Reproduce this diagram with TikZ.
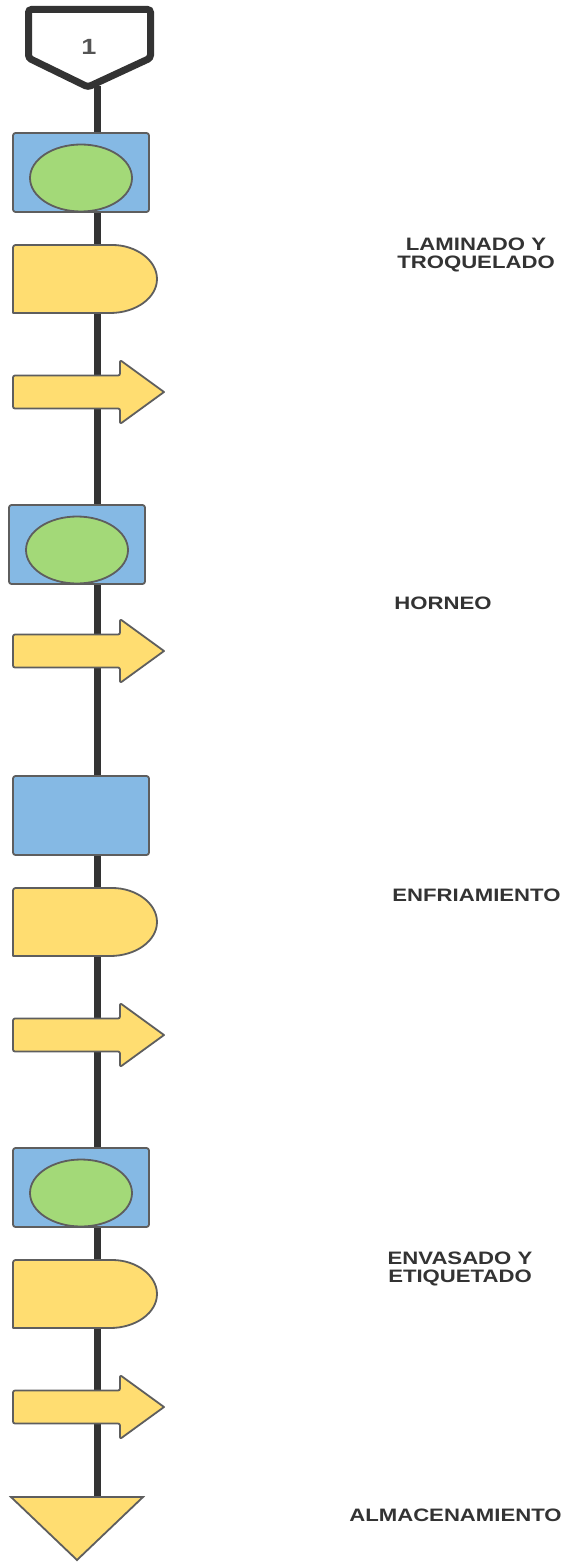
\documentclass[tikz,border=0pt]{standalone}
\usepackage{fontspec}
\setsansfont{Liberation Sans}
\definecolor{boxblue}{HTML}{85B9E4}
\definecolor{ovalgreen}{HTML}{A3D978}
\definecolor{delayyellow}{HTML}{FFDD71}
\definecolor{shapeline}{HTML}{5E5E5E}
\definecolor{flowline}{HTML}{333333}
\definecolor{labeltext}{HTML}{333333}
\tikzset{
  shapestyle/.style={draw=shapeline, line width=1.8pt, line join=round},
  opbox/.pic={\path[shapestyle, fill=boxblue, rounded corners=2.5pt] (0,0) rectangle (136,79);},
  opoval/.pic={\path[shapestyle, fill=ovalgreen] (0,0) ellipse [x radius=51, y radius=33.5];},
  delayshape/.pic={\path[shapestyle, fill=delayyellow] (97,0) arc[start angle=-90, end angle=90, x radius=47, y radius=34] -- (0,68) [rounded corners=2.5pt] -- (0,0) -- cycle;},
  transportshape/.pic={\path[shapestyle, fill=delayyellow, rounded corners=2pt] (0,-16.5) -- (107,-16.5) -- (107,-32) [sharp corners] -- (151,0) [rounded corners=2pt] -- (107,32) -- (107,16.5) -- (0,16.5) -- cycle;},
  storeshape/.style={shapestyle, fill=delayyellow, line join=miter},
  steplabel/.style={anchor=base, inner sep=0pt, text=labeltext, font=\sffamily\bfseries\fontsize{18}{18}\selectfont},
}
\newcommand{\wlabel}[1]{\scalebox{1.23}[1]{\begin{tabular}[t]{@{}c@{}}#1\end{tabular}}}
\begin{document}
\begin{tikzpicture}[x=1pt, y=-1pt]
\useasboundingbox[fill=white] (0,0) rectangle (564,1562);
% main flow line
\coordinate (flowtop) at (97,86);
\coordinate (flowbottom) at (97,1498);
\draw[flowline, line width=7pt] (flowtop) -- (flowbottom);
% start marker
\path[draw=flowline, fill=white, line width=7pt, rounded corners=3pt] (28.5,9.5) -- (150.5,9.5) -- (150.5,58) -- (88,87) -- (28.5,58) -- cycle;
\node[anchor=base, inner sep=0pt, text=black!67, font=\sffamily\bfseries\fontsize{22}{22}\selectfont] (startnum) at (89,55) {\scalebox{1.23}[1]{1}};
% group 1
\pic at (13,133) {opbox};
\pic at (81,178) {opoval};
\pic at (13,245) {delayshape};
\pic at (13,392) {transportshape};
% group 2
\pic at (9,505) {opbox};
\pic at (77,550) {opoval};
\pic at (13,651) {transportshape};
% group 3
\pic at (13,776) {opbox};
\pic at (13,888) {delayshape};
\pic at (13,1035) {transportshape};
% group 4
\pic at (13,1148) {opbox};
\pic at (81,1193) {opoval};
\pic at (13,1260) {delayshape};
\pic at (13,1407) {transportshape};
% storage
\path[storeshape] (11,1497) -- (143,1497) -- (77,1560) -- cycle;
% labels
\node[steplabel] (l1) at (476,250.5) {\wlabel{LAMINADO Y\\TROQUELADO}};
\node[steplabel] (l2) at (443,609.5) {\wlabel{HORNEO}};
\node[steplabel] (l3) at (476.5,901.5) {\wlabel{ENFRIAMIENTO}};
\node[steplabel] (l4) at (460,1264.5) {\wlabel{ENVASADO Y\\ETIQUETADO}};
\node[steplabel] (l5) at (455.5,1521.5) {\wlabel{ALMACENAMIENTO}};
\end{tikzpicture}
\end{document}
